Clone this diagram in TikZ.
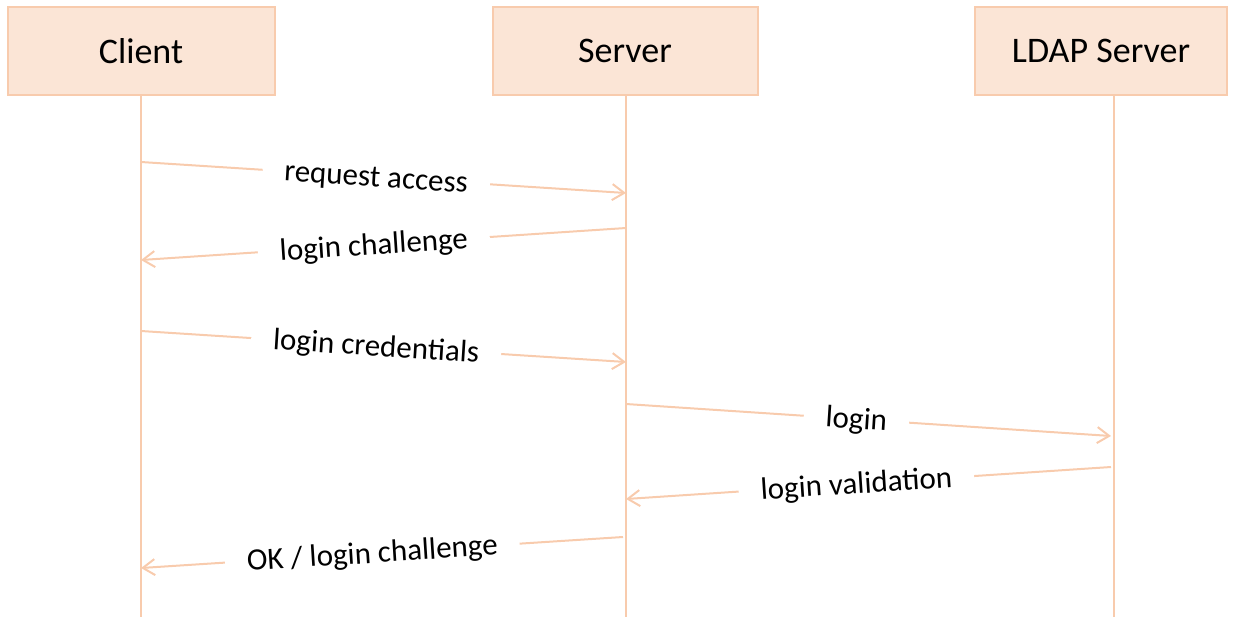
\documentclass[tikz,border=0pt]{standalone}
\usepackage{fontspec}
\setmainfont{Carlito}
\usetikzlibrary{arrows.meta}

\definecolor{peachfill}{HTML}{FBE5D6}
\definecolor{peachline}{HTML}{F8CBAD}

\begin{document}
\begin{tikzpicture}[
  x=0.5pt, y=-0.5pt,
  actor/.style={draw=peachline, line width=1pt, fill=peachfill,
    minimum height=44pt, inner sep=0pt, font=\fontsize{18}{21}\selectfont},
  life/.style={draw=peachline, line width=1pt},
  msg/.style={draw=peachline, line width=1pt,
    -{Straight Barb[length=6pt, width=8pt, line width=1pt]}},
  lbl/.style={fill=white, sloped, anchor=mid, yshift=-2.5pt,
    inner xsep=11pt, inner ysep=2pt, font=\fontsize{15.5}{18}\selectfont},
]
  \useasboundingbox (0,0) rectangle (1239,617);

  % --- the three parties ---------------------------------------------
  \node[actor, minimum width=133.5pt] (client) at (141,51) {Client};
  \node[actor, minimum width=132.5pt] (server) at (625,51) {Server};
  \node[actor, minimum width=126pt]   (ldap)   at (1101,51) {LDAP Server};

  % --- lifelines -----------------------------------------------------
  \coordinate (clientend) at (141,617);
  \coordinate (serverend) at (626,617);
  \coordinate (ldapend)   at (1114,617);
  \draw[life] (client.south -| clientend) -- (clientend);
  \draw[life] (server.south -| serverend) -- (serverend);
  \draw[life] (ldap.south -| ldapend) -- (ldapend);

  % --- message end points on the lifelines ---------------------------
  \coordinate (c1) at (141,162);  \coordinate (s1) at (626,193);
  \coordinate (s2) at (626,228);  \coordinate (c2) at (141,260);
  \coordinate (c3) at (141,331);  \coordinate (s3) at (626,362);
  \coordinate (s4) at (626,404);  \coordinate (l4) at (1111,436);
  \coordinate (l5) at (1111,467); \coordinate (s5) at (626,499);
  \coordinate (s6) at (623,537);  \coordinate (c6) at (141,568);

  % --- messages ------------------------------------------------------
  \draw[msg] (c1) -- node[lbl, pos=0.485] {request access} (s1);
  \draw[msg] (s2) -- node[lbl, pos=0.52] {login challenge} (c2);
  \draw[msg] (c3) -- node[lbl, pos=0.485] {login credentials} (s3);
  \draw[msg] (s4) -- node[lbl, pos=0.475] {login} (l4);
  \draw[msg] (l5) -- node[lbl, pos=0.525] {login validation} (s5);
  \draw[msg] (s6) -- node[lbl, pos=0.52] {OK / login challenge} (c6);
\end{tikzpicture}
\end{document}
